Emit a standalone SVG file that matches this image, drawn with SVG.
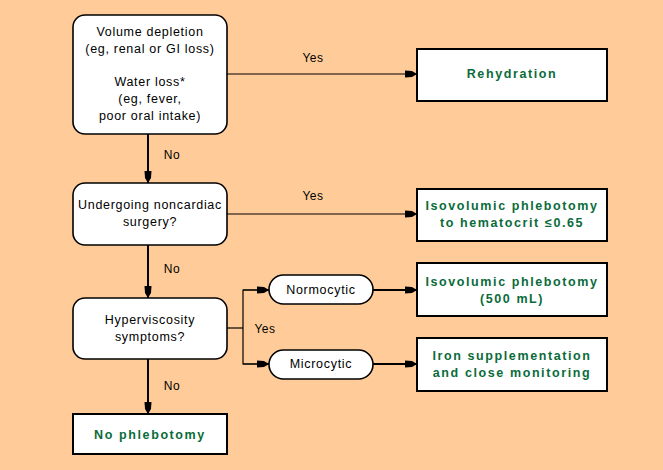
<svg xmlns="http://www.w3.org/2000/svg" width="663" height="470" viewBox="0 0 663 470">
<defs>
<marker id="ah" markerUnits="userSpaceOnUse" markerWidth="14" markerHeight="10" refX="13" refY="5" orient="auto">
<path d="M1,1.5 L8,2 L13,5 L8,8 L1,8.5 Z" fill="#000"/>
</marker>
</defs>
<style>
.bg{fill:#FFCC99}
.dec{fill:#fff;stroke:#000;stroke-width:1.6}
.res{fill:#fff;stroke:#000;stroke-width:2}
.t{font-family:"Liberation Sans",Arial,sans-serif;font-size:12.5px;letter-spacing:0.7px;fill:#000;text-anchor:middle;dominant-baseline:central}
.g{font-family:"Liberation Sans",Arial,sans-serif;font-size:12.5px;font-weight:bold;letter-spacing:1.6px;fill:#0a6b3a;text-anchor:middle;dominant-baseline:central}
.v{stroke:#000;stroke-width:2;fill:none}
.h{stroke:#000;stroke-width:1.2;fill:none}
.lab{font-family:"Liberation Sans",Arial,sans-serif;font-size:12px;letter-spacing:0.5px;fill:#000;text-anchor:middle;dominant-baseline:central}
</style>
<rect class="bg" x="0" y="0" width="663" height="470"/>
<g id="connectors">
<line class="v" x1="148" y1="134" x2="148" y2="183" marker-end="url(#ah)"/>
<line class="v" x1="148" y1="245" x2="148" y2="298" marker-end="url(#ah)"/>
<line class="v" x1="148" y1="359" x2="148" y2="414" marker-end="url(#ah)"/>
<line class="h" x1="227" y1="74" x2="417" y2="74" marker-end="url(#ah)"/>
<line class="h" x1="227" y1="214" x2="417" y2="214" marker-end="url(#ah)"/>
<polyline class="h" points="227,328 243,328"/>
<polyline class="h" points="269,290 243,290 243,364 269,364"/>
<line class="h" x1="243" y1="290" x2="269" y2="290" marker-end="url(#ah)"/>
<line class="h" x1="243" y1="364" x2="269" y2="364" marker-end="url(#ah)"/>
<line class="v" x1="373" y1="290" x2="417" y2="290" marker-end="url(#ah)"/>
<line class="v" x1="373" y1="364" x2="417" y2="364" marker-end="url(#ah)"/>
<text class="lab" x="313" y="58">Yes</text>
<text class="lab" x="313" y="196">Yes</text>
<text class="lab" x="265" y="329">Yes</text>
<text class="lab" x="172" y="155">No</text>
<text class="lab" x="172" y="269">No</text>
<text class="lab" x="172" y="386">No</text>
</g>
<g id="volume">
<rect class="dec" x="73" y="15" width="154" height="119" rx="12"/>
<text class="t" x="150" y="32">Volume depletion</text>
<text class="t" x="150" y="49">(eg, renal or GI loss)</text>
<text class="t" x="150" y="82">Water loss*</text>
<text class="t" x="150" y="99">(eg, fever,</text>
<text class="t" x="150" y="116">poor oral intake)</text>
</g>
<g id="surgery">
<rect class="dec" x="73" y="183" width="154" height="62" rx="12"/>
<text class="t" x="150" y="205">Undergoing noncardiac</text>
<text class="t" x="150" y="222">surgery?</text>
</g>
<g id="hyper">
<rect class="dec" x="73" y="298" width="154" height="61" rx="12"/>
<text class="t" x="150" y="320">Hyperviscosity</text>
<text class="t" x="150" y="337">symptoms?</text>
</g>
<g id="normo">
<rect class="dec" x="269" y="275" width="104" height="29" rx="14.5"/>
<text class="t" x="321" y="290">Normocytic</text>
</g>
<g id="micro">
<rect class="dec" x="269" y="350" width="104" height="29" rx="14.5"/>
<text class="t" x="321" y="364">Microcytic</text>
</g>
<g id="rehydration">
<rect class="res" x="417" y="49" width="190" height="52"/>
<text class="g" x="512" y="74">Rehydration</text>
</g>
<g id="phleb1">
<rect class="res" x="417" y="189" width="190" height="52"/>
<text class="g" x="512" y="206">Isovolumic phlebotomy</text>
<text class="g" x="512" y="223">to hematocrit ≤0.65</text>
</g>
<g id="phleb2">
<rect class="res" x="417" y="263" width="190" height="53"/>
<text class="g" x="512" y="282">Isovolumic phlebotomy</text>
<text class="g" x="512" y="299">(500 mL)</text>
</g>
<g id="iron">
<rect class="res" x="417" y="338" width="190" height="53"/>
<text class="g" x="512" y="356">Iron supplementation</text>
<text class="g" x="512" y="373">and close monitoring</text>
</g>
<g id="nophleb">
<rect class="res" x="73" y="414" width="154" height="40"/>
<text class="g" x="150" y="435">No phlebotomy</text>
</g>
</svg>
